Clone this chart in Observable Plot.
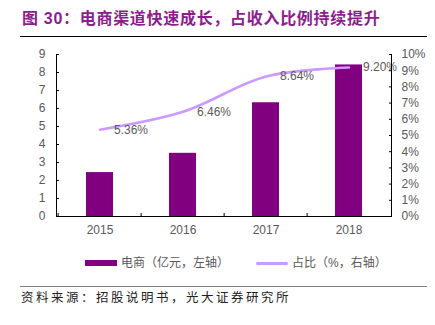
<!DOCTYPE html>
<html><head><meta charset="utf-8">
<script src="https://cdn.jsdelivr.net/npm/d3@7"></script>
<script src="https://cdn.jsdelivr.net/npm/@observablehq/plot@0.6"></script>
<style>
body{margin:0;background:#fff;font-family:"Liberation Sans",Arial,"Noto Sans CJK SC",sans-serif;}
#wrap{position:relative;width:435px;height:325px;overflow:hidden;background:#fff}
#title{position:absolute;left:20px;top:0;width:407px;height:37px;border-bottom:1px solid #000;box-sizing:border-box;
  font-weight:bold;font-size:16px;font-family:"Liberation Sans","Noto Sans CJK SC",sans-serif;color:#8C1D8C;line-height:38px;padding-left:2px;letter-spacing:0.7px;white-space:nowrap}
#chart{position:absolute;left:0;top:37px}
#legend{position:absolute;top:255px;left:85px;display:flex;gap:27px;font-size:12px;color:#595959;line-height:16px;font-family:"Liberation Sans","Noto Sans CJK SC",sans-serif;white-space:nowrap}
.item{display:flex;align-items:center;gap:4px}
.sw{width:32px}
#rule{position:absolute;left:20px;top:286px;width:407px;height:0;border-top:1.5px solid #7f7f7f}
#source{position:absolute;left:21px;top:289px;font-size:12.5px;letter-spacing:2.5px;color:#222;line-height:16px;font-family:"Noto Sans CJK SC",sans-serif;white-space:nowrap}
</style></head>
<body><div id="wrap">
<div id="title"></div>
<div id="chart"></div>
<div id="legend"></div>
<div id="rule"></div>
<div id="source"></div>
</div>
<script>
const titleText = "图 30：电商渠道快速成长，占收入比例持续提升";
const sourceText = "资料来源：招股说明书，光大证券研究所";
const years = ["2015", "2016", "2017", "2018"];
const ecomRevenue = [2.44, 3.51, 6.32, 8.42];   // 亿元, left axis
const ecomShare = [5.36, 6.46, 8.64, 9.20];     // %, right axis
const leftTicks = [0, 1, 2, 3, 4, 5, 6, 7, 8, 9];
const rightTicks = [0, 1, 2, 3, 4, 5, 6, 7, 8, 9, 10];
const leftMax = 9, rightMax = 10;
const seriesNames = ["电商（亿元，左轴）", "占比（%，右轴）"];
const barColor = "#800080", lineColor = "#CC99FF";

document.getElementById("title").textContent = titleText;
document.getElementById("source").textContent = sourceText;

const data = years.map((y, i) => ({year: y, rev: ecomRevenue[i], share: ecomShare[i]}));
const toLeft = p => p * leftMax / rightMax;

const W = 435, H = 209, mL = 56, mR = 44;
const bw = (W - mL - mR) / years.length;
const txt = {fontSize: 12, fontFamily: "Liberation Sans, Arial, sans-serif"};

const chart = Plot.plot({
  width: W, height: H,
  marginLeft: mL, marginRight: mR, marginTop: 17, marginBottom: 30,
  style: {fontSize: "12px", fontFamily: "Liberation Sans, Arial, sans-serif", background: "#fff"},
  x: {domain: years, padding: 0, axis: null, label: null},
  y: {domain: [0, leftMax], axis: null, label: null},
  marks: [
    Plot.barY(data, {x: "year", y: "rev", fill: barColor, insetLeft: 28, insetRight: 28}),
    Plot.line(data, {x: "year", y: d => toLeft(d.share), stroke: lineColor, strokeWidth: 2.6, curve: "catmull-rom"}),
    Plot.text(data, {x: "year", y: d => toLeft(d.share), text: d => d.share.toFixed(2) + "%", textAnchor: "start", dx: 14, fill: "#595959", ...txt}),
    // left axis
    Plot.axisY(leftTicks, {anchor: "left", label: null, tickSize: 0, tickPadding: 11, color: "#595959", ...txt}),
    Plot.axisY(leftTicks, {anchor: "left", label: null, tickSize: 3, dx: 3, tickFormat: () => "", stroke: "#000"}),
    // right axis
    Plot.axisY(rightTicks.map(toLeft), {anchor: "right", label: null, tickSize: 0, tickPadding: 10, color: "#595959", tickFormat: d => Math.round(d * rightMax / leftMax) + "%", ...txt}),
    Plot.axisY(rightTicks.map(toLeft), {anchor: "right", label: null, tickSize: 3, dx: -3, tickFormat: () => "", stroke: "#000"}),
    // x axis
    Plot.axisX({label: null, tickSize: 0, tickPadding: 9, color: "#595959", ...txt}),
    Plot.axisX({label: null, tickSize: 3, dx: -bw / 2, dy: -3, tickFormat: () => "", stroke: "#000"}),
    Plot.ruleY([0], {stroke: "#000"}),
    Plot.frame({anchor: "left", stroke: "#000"}),
    Plot.frame({anchor: "right", stroke: "#000"})
  ]
});
document.getElementById("chart").appendChild(chart);

const legend = document.getElementById("legend");
seriesNames.forEach((name, i) => {
  const item = document.createElement("div");
  item.className = "item";
  const sw = document.createElement("span");
  sw.className = "sw";
  if (i === 0) { sw.style.height = "6px"; sw.style.background = barColor; }
  else { sw.style.height = "3px"; sw.style.background = lineColor; sw.style.borderRadius = "2px"; }
  const t = document.createElement("span");
  t.textContent = name;
  item.appendChild(sw); item.appendChild(t);
  legend.appendChild(item);
});
</script>
</body></html>
